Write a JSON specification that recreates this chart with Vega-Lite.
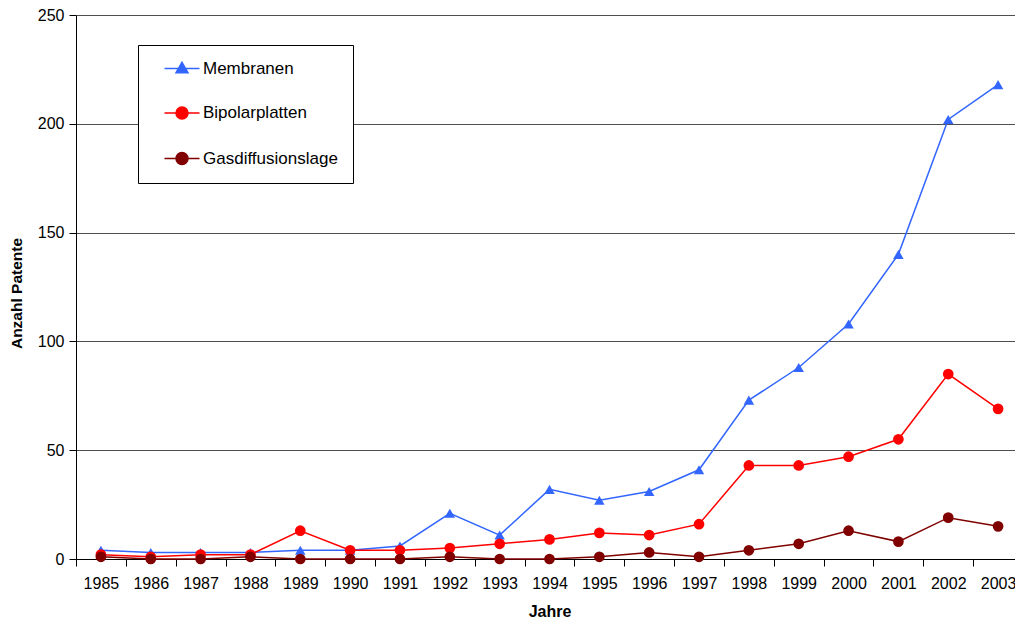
{
  "$schema": "https://vega.github.io/schema/vega-lite/v6.json",
  "width": 947,
  "height": 544,
  "autosize": {"type": "none"},
  "padding": {"left": 76, "top": 15, "right": 0, "bottom": 64},
  "background": "white",
  "config": {
    "view": {"stroke": null},
    "font": "Liberation Sans"
  },
  "datasets": {
    "patents": [
      {"Jahr": "1985", "Serie": "Membranen", "Anzahl": 4},
      {"Jahr": "1986", "Serie": "Membranen", "Anzahl": 3},
      {"Jahr": "1987", "Serie": "Membranen", "Anzahl": 3},
      {"Jahr": "1988", "Serie": "Membranen", "Anzahl": 3},
      {"Jahr": "1989", "Serie": "Membranen", "Anzahl": 4},
      {"Jahr": "1990", "Serie": "Membranen", "Anzahl": 4},
      {"Jahr": "1991", "Serie": "Membranen", "Anzahl": 6},
      {"Jahr": "1992", "Serie": "Membranen", "Anzahl": 21},
      {"Jahr": "1993", "Serie": "Membranen", "Anzahl": 11},
      {"Jahr": "1994", "Serie": "Membranen", "Anzahl": 32},
      {"Jahr": "1995", "Serie": "Membranen", "Anzahl": 27},
      {"Jahr": "1996", "Serie": "Membranen", "Anzahl": 31},
      {"Jahr": "1997", "Serie": "Membranen", "Anzahl": 41},
      {"Jahr": "1998", "Serie": "Membranen", "Anzahl": 73},
      {"Jahr": "1999", "Serie": "Membranen", "Anzahl": 88},
      {"Jahr": "2000", "Serie": "Membranen", "Anzahl": 108},
      {"Jahr": "2001", "Serie": "Membranen", "Anzahl": 140},
      {"Jahr": "2002", "Serie": "Membranen", "Anzahl": 202},
      {"Jahr": "2003", "Serie": "Membranen", "Anzahl": 218},
      {"Jahr": "1985", "Serie": "Bipolarplatten", "Anzahl": 2},
      {"Jahr": "1986", "Serie": "Bipolarplatten", "Anzahl": 1},
      {"Jahr": "1987", "Serie": "Bipolarplatten", "Anzahl": 2},
      {"Jahr": "1988", "Serie": "Bipolarplatten", "Anzahl": 2},
      {"Jahr": "1989", "Serie": "Bipolarplatten", "Anzahl": 13},
      {"Jahr": "1990", "Serie": "Bipolarplatten", "Anzahl": 4},
      {"Jahr": "1991", "Serie": "Bipolarplatten", "Anzahl": 4},
      {"Jahr": "1992", "Serie": "Bipolarplatten", "Anzahl": 5},
      {"Jahr": "1993", "Serie": "Bipolarplatten", "Anzahl": 7},
      {"Jahr": "1994", "Serie": "Bipolarplatten", "Anzahl": 9},
      {"Jahr": "1995", "Serie": "Bipolarplatten", "Anzahl": 12},
      {"Jahr": "1996", "Serie": "Bipolarplatten", "Anzahl": 11},
      {"Jahr": "1997", "Serie": "Bipolarplatten", "Anzahl": 16},
      {"Jahr": "1998", "Serie": "Bipolarplatten", "Anzahl": 43},
      {"Jahr": "1999", "Serie": "Bipolarplatten", "Anzahl": 43},
      {"Jahr": "2000", "Serie": "Bipolarplatten", "Anzahl": 47},
      {"Jahr": "2001", "Serie": "Bipolarplatten", "Anzahl": 55},
      {"Jahr": "2002", "Serie": "Bipolarplatten", "Anzahl": 85},
      {"Jahr": "2003", "Serie": "Bipolarplatten", "Anzahl": 69},
      {"Jahr": "1985", "Serie": "Gasdiffusionslage", "Anzahl": 1},
      {"Jahr": "1986", "Serie": "Gasdiffusionslage", "Anzahl": 0},
      {"Jahr": "1987", "Serie": "Gasdiffusionslage", "Anzahl": 0},
      {"Jahr": "1988", "Serie": "Gasdiffusionslage", "Anzahl": 1},
      {"Jahr": "1989", "Serie": "Gasdiffusionslage", "Anzahl": 0},
      {"Jahr": "1990", "Serie": "Gasdiffusionslage", "Anzahl": 0},
      {"Jahr": "1991", "Serie": "Gasdiffusionslage", "Anzahl": 0},
      {"Jahr": "1992", "Serie": "Gasdiffusionslage", "Anzahl": 1},
      {"Jahr": "1993", "Serie": "Gasdiffusionslage", "Anzahl": 0},
      {"Jahr": "1994", "Serie": "Gasdiffusionslage", "Anzahl": 0},
      {"Jahr": "1995", "Serie": "Gasdiffusionslage", "Anzahl": 1},
      {"Jahr": "1996", "Serie": "Gasdiffusionslage", "Anzahl": 3},
      {"Jahr": "1997", "Serie": "Gasdiffusionslage", "Anzahl": 1},
      {"Jahr": "1998", "Serie": "Gasdiffusionslage", "Anzahl": 4},
      {"Jahr": "1999", "Serie": "Gasdiffusionslage", "Anzahl": 7},
      {"Jahr": "2000", "Serie": "Gasdiffusionslage", "Anzahl": 13},
      {"Jahr": "2001", "Serie": "Gasdiffusionslage", "Anzahl": 8},
      {"Jahr": "2002", "Serie": "Gasdiffusionslage", "Anzahl": 19},
      {"Jahr": "2003", "Serie": "Gasdiffusionslage", "Anzahl": 15}
    ]
  },
  "data": {"name": "patents"},
  "encoding": {
    "x": {
      "field": "Jahr",
      "type": "ordinal",
      "scale": {"type": "band", "paddingInner": 0, "paddingOuter": 0},
      "axis": {
        "title": "Jahre",
        "titleFontSize": 16,
        "titleFontWeight": "bold",
        "titleColor": "black",
        "titlePadding": 12,
        "labelAngle": 0,
        "labelFontSize": 16,
        "labelColor": "black",
        "labelPadding": 9,
        "tickBand": "extent",
        "tickSize": 7,
        "tickColor": "black",
        "domainColor": "black",
        "grid": false
      }
    },
    "y": {
      "field": "Anzahl",
      "type": "quantitative",
      "scale": {"domain": [0, 250]},
      "axis": {
        "title": "Anzahl Patente",
        "titleFontSize": 15.5,
        "titleFontWeight": "bold",
        "titleColor": "black",
        "titlePadding": 13,
        "titleY": 278,
        "values": [0, 50, 100, 150, 200, 250],
        "labelFontSize": 16,
        "labelColor": "black",
        "labelPadding": 5,
        "tickSize": 7,
        "tickColor": "black",
        "domainColor": "black",
        "grid": true,
        "gridColor": "#222222",
        "gridWidth": 0.8,
        "gridOpacity": 1
      }
    },
    "color": {
      "field": "Serie",
      "type": "nominal",
      "sort": ["Membranen", "Bipolarplatten", "Gasdiffusionslage"],
      "scale": {
        "domain": ["Membranen", "Bipolarplatten", "Gasdiffusionslage"],
        "range": ["#3366FF", "#FF0000", "#800000"]
      },
      "legend": {
        "title": null,
        "orient": "none",
        "legendX": 62,
        "legendY": 30,
        "strokeColor": "black",
        "fillColor": "white",
        "padding": 15,
        "rowPadding": 26.5,
        "labelFontSize": 17,
        "labelColor": "black",
        "labelOffset": 33,
        "symbolSize": 100,
        "symbolStrokeWidth": 1.5,
        "encode": {
          "symbols": {
            "update": {
              "shape": {"signal": "datum.value === 'Membranen' ? 'M0.6,0H7.6M4.1,-1.25L5.3,0.85L2.9,0.85Z' : 'M0.6,0H7.6M2.9,0A1.2,1.2 0 1,0 5.3,0A1.2,1.2 0 1,0 2.9,0Z'"},
              "fill": {"scale": "color", "field": "value"},
              "stroke": {"scale": "color", "field": "value"},
              "strokeWidth": {"value": 1.5},
              "fillOpacity": {"value": 1},
              "strokeOpacity": {"value": 1},
              "opacity": {"value": 1}
            }
          }
        }
      }
    }
  },
  "layer": [
    {
      "mark": {"type": "line", "strokeWidth": 1.5}
    },
    {
      "transform": [{"filter": "datum.Serie === 'Membranen'"}],
      "mark": {"type": "point", "shape": "triangle-up", "filled": true, "opacity": 1, "size": 110}
    },
    {
      "transform": [{"filter": "datum.Serie !== 'Membranen'"}],
      "mark": {"type": "point", "shape": "circle", "filled": true, "opacity": 1, "size": 115}
    }
  ]
}
